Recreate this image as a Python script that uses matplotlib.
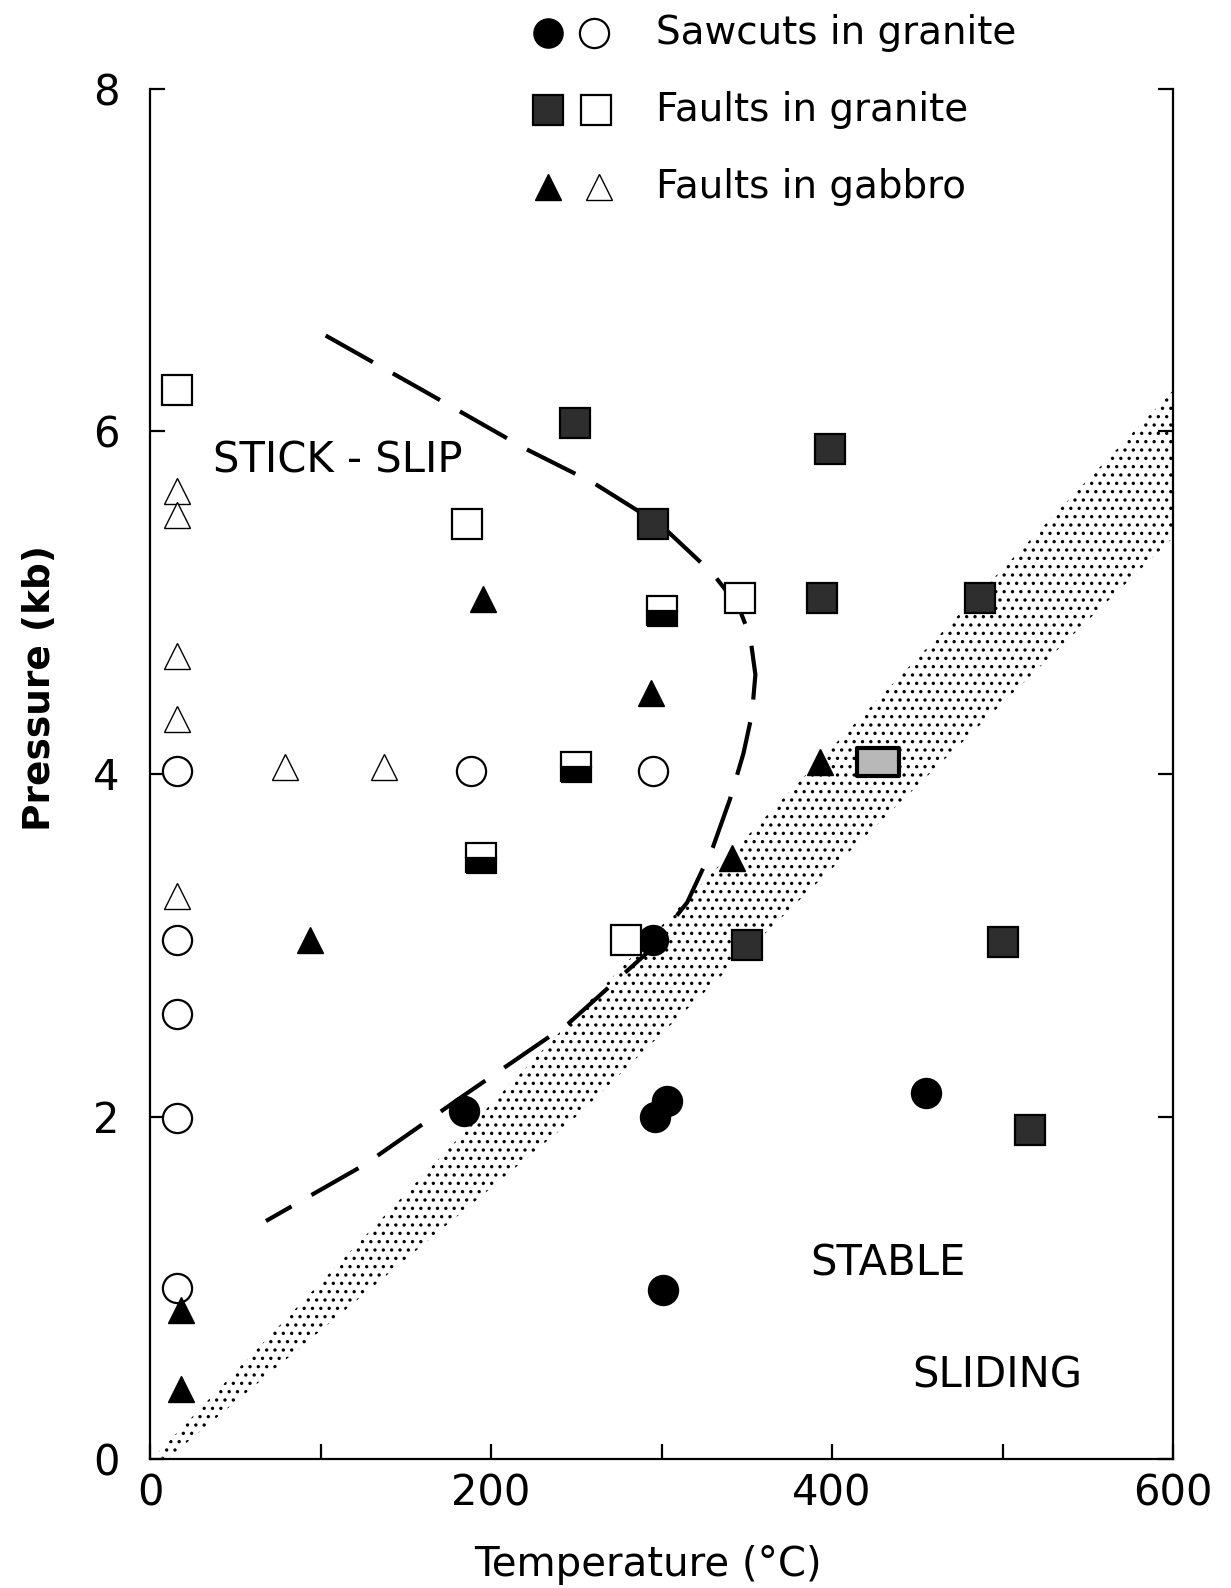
import numpy as np
import matplotlib
matplotlib.use('Agg')
import matplotlib.pyplot as plt
from matplotlib.path import Path

# data: temperature (C), pressure (kb)
saw_fill_T = [184, 296, 303, 455, 301, 295]
saw_fill_P = [2.03, 2.00, 2.09, 2.14, 0.99, 3.03]
saw_open_T = [16, 16, 16, 16, 16, 188, 295]
saw_open_P = [4.02, 3.03, 2.60, 1.99, 1.00, 4.02, 4.02]

gra_fill_T = [249, 399, 295, 394, 487, 350, 500, 516]
gra_fill_P = [6.05, 5.90, 5.46, 5.03, 5.03, 3.00, 3.02, 1.92]
gra_blur_T = [427]
gra_blur_P = [4.07]
gra_open_T = [16, 186, 346, 279]
gra_open_P = [6.24, 5.46, 5.03, 3.03]
gra_half_T = [300, 250, 194]
gra_half_P = [4.95, 4.04, 3.51]

gab_fill_T = [195, 294, 393, 341, 94, 18, 18]
gab_fill_P = [5.02, 4.47, 4.07, 3.51, 3.03, 0.87, 0.41]
gab_open_T = [16, 16, 16, 16, 16, 79, 137]
gab_open_P = [5.65, 5.51, 4.69, 4.32, 3.29, 4.04, 4.04]

# stick-slip boundary (dashed)
curve_T = [103, 160, 220, 260, 300, 330, 345, 352, 355, 353, 348, 340, 330, 315, 292, 245, 185, 126, 68]
curve_P = [6.56, 6.24, 5.90, 5.70, 5.45, 5.17, 4.98, 4.80, 4.58, 4.35, 4.12, 3.85, 3.57, 3.25, 2.96, 2.54, 2.13, 1.72, 1.39]

# stippled band edges
band_upper_T = [3, 600]
band_upper_P = [0.02, 6.24]
band_lower_T = [600, 250, 40, 10]
band_lower_P = [5.38, 2.00, 0.25, 0.0]

fig = plt.figure(figsize=(12.31, 15.88), dpi=100)
ax = fig.add_axes([0.1219, 0.0812, 0.8311, 0.8628])
ax.set_xlim(0, 600)
ax.set_ylim(0, 8)

# band
bx = band_upper_T + band_lower_T
by = band_upper_P + band_lower_P
plt.rcParams['hatch.linewidth'] = 1.2
ax.fill(bx, by, facecolor='none', edgecolor='black', lw=0, hatch='..')

ax.plot(curve_T, curve_P, color='black', lw=3.0, dashes=(13, 5.5), solid_capstyle='butt')

ms_c, ms_s, ms_t = 21, 21, 19
wide_box = Path([(-1.45, -1), (1.45, -1), (1.45, 1), (-1.45, 1), (-1.45, -1)], closed=True)
ax.plot(saw_open_T, saw_open_P, 'o', ms=ms_c, mfc='white', mec='black', mew=1.6, ls='none')
ax.plot(saw_fill_T, saw_fill_P, 'o', ms=ms_c, mfc='black', mec='black', mew=1.6, ls='none')
ax.plot(gra_open_T, gra_open_P, 's', ms=ms_s, mfc='white', mec='black', mew=1.6, ls='none')
ax.plot(gra_fill_T, gra_fill_P, 's', ms=ms_s, mfc='#2e2e2e', mec='black', mew=1.6, ls='none')
ax.plot(gra_blur_T, gra_blur_P, marker=wide_box, ms=30, mfc='#b8b8b8', mec='black', mew=3, ls='none')
ax.plot(gra_half_T, gra_half_P, 's', ms=ms_s, fillstyle='bottom', mfc='black', mfcalt='white',
        mec='black', mew=1.6, ls='none')
ax.plot(gab_open_T, gab_open_P, '^', ms=ms_t, mfc='white', mec='black', mew=1.0, ls='none')
ax.plot(gab_fill_T, gab_fill_P, '^', ms=ms_t, mfc='black', mec='black', mew=1.0, ls='none')

# axes look
ax.spines['top'].set_visible(False)
for s in ['left', 'bottom', 'right']:
    ax.spines[s].set_linewidth(1.6)
ax.set_xticks([0, 100, 200, 300, 400, 500, 600])
ax.set_xticklabels(['0', '', '200', '', '400', '', '600'])
ax.set_yticks([0, 2, 4, 6, 8])
ax.tick_params(axis='both', direction='in', length=11, width=1.6, labelsize=30)
ax.tick_params(axis='y', right=True, pad=22)
ax.tick_params(axis='x', pad=10)
ax.set_xlabel('Temperature (°C)', fontsize=29)
ax.xaxis.set_label_coords(0.487, -0.063)
ax.set_ylabel('Pressure (kb)', fontsize=27, fontweight='bold')
ax.yaxis.set_label_coords(-0.09, 0.563)

ax.text(37, 5.83, 'STICK - SLIP', fontsize=30, va='center', ha='left')
ax.text(387, 1.14, 'STABLE', fontsize=30, va='center', ha='left')
ax.text(447, 0.49, 'SLIDING', fontsize=30, va='center', ha='left')

# legend drawn by hand at the top
lx1, lx2, ltx = 0.4453, 0.4823, 0.5333
rows = [0.979, 0.931, 0.882]
fig.lines.append(plt.Line2D([lx1], [rows[0]], marker='o', ms=ms_c, mfc='black', mec='black',
                            transform=fig.transFigure))
fig.lines.append(plt.Line2D([lx2], [rows[0]], marker='o', ms=ms_c, mfc='white', mec='black',
                            mew=1.6, transform=fig.transFigure))
fig.lines.append(plt.Line2D([lx1], [rows[1]], marker='s', ms=ms_s, mfc='#2e2e2e', mec='black',
                            mew=1.6, transform=fig.transFigure))
fig.lines.append(plt.Line2D([lx2 + 0.002], [rows[1]], marker='s', ms=ms_s, mfc='white', mec='black',
                            mew=1.6, transform=fig.transFigure))
fig.lines.append(plt.Line2D([lx1], [rows[2]], marker='^', ms=ms_t, mfc='black', mec='black',
                            transform=fig.transFigure))
fig.lines.append(plt.Line2D([lx2 + 0.004], [rows[2]], marker='^', ms=ms_t, mfc='white', mec='black',
                            mew=1.0, transform=fig.transFigure))
labels = ['Sawcuts in granite', 'Faults in granite', 'Faults in gabbro']
for y, t in zip(rows, labels):
    fig.text(ltx, y, t, fontsize=28, va='center', ha='left')

fig.savefig('out.png', dpi=100)
